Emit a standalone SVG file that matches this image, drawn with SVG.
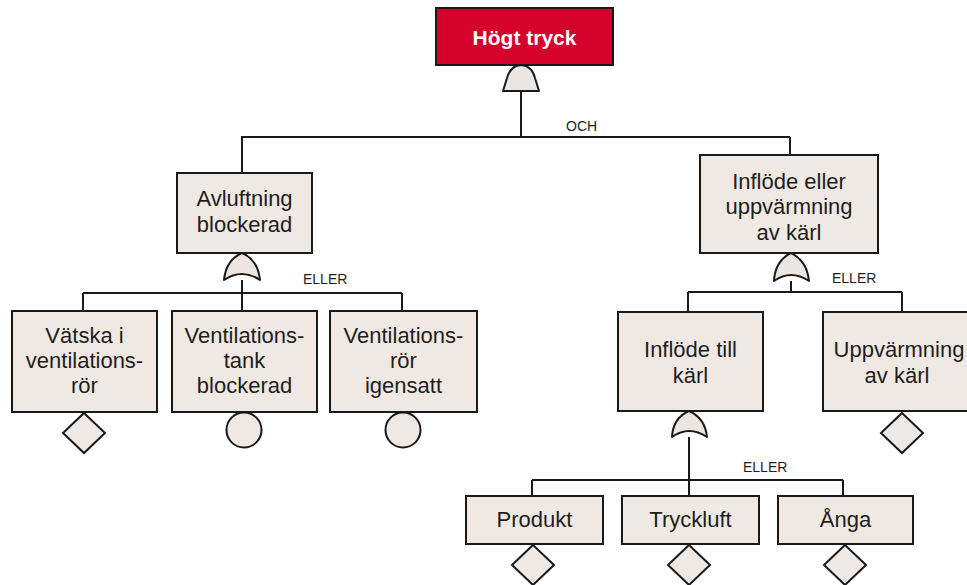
<svg xmlns="http://www.w3.org/2000/svg" width="967" height="585" viewBox="0 0 967 585">
<style>
.box{fill:#f0e8e2;stroke:#1a1a1a;stroke-width:2}
.gate{fill:#ede6e0;stroke:#1a1a1a;stroke-width:2;stroke-linejoin:round}
.ev{fill:#f0e8e2;stroke:#1a1a1a;stroke-width:2}
.t{font-family:"Liberation Sans",Arial,sans-serif;font-size:22px;fill:#1e1e1e;text-anchor:middle}
.lbl{font-family:"Liberation Sans",Arial,sans-serif;font-size:14px;fill:#1e1e1e}
.c{fill:none;stroke:#1a1a1a;stroke-width:2}
</style>
<rect width="967" height="585" fill="#ffffff"/>
<g id="connectors">
<path class="c" d="M521,91 V137 M241,137 H790 M242,137 V173 M790,137 V155"/>
<path class="c" d="M242,280 V311 M83,293 H402 M83,293 V311 M402,293 V311"/>
<path class="c" d="M791,281 V292 M688,292 H902 M688,292 V312 M902,292 V312"/>
<path class="c" d="M689,437 V496 M532,480 H843 M532,480 V496 M843,480 V496"/>
</g>
<g id="gates">
<path id="gate-och" class="gate" d="M503,91 L507,78 Q510,66 521,65 Q532,66 535,78 L539,91 Z"/>
<path id="gate-eller1" class="gate" d="M224,280 Q242,268 260,280 Q258,260 242,253 Q226,260 224,280 Z"/>
<path id="gate-eller2" class="gate" d="M774,281 Q791,269 809,281 Q807,261 791,253 Q775,261 774,281 Z"/>
<path id="gate-eller3" class="gate" d="M672,437 Q689,425 707,437 Q705,418 689,411 Q673,418 672,437 Z"/>
</g>
<g id="n-top">
<rect x="436" y="8" width="177" height="57" fill="#d5002b" stroke="#1a1a1a" stroke-width="2"/>
<text class="t" x="524.5" y="45" style="fill:#ffffff;font-weight:bold;font-size:21px">Högt tryck</text>
</g>
<text class="lbl" x="566" y="131">OCH</text>
<g id="n-avluftning">
<rect class="box" x="177" y="173" width="135" height="80"/>
<text class="t" x="244.5" y="206">Avluftning</text>
<text class="t" x="244.5" y="232">blockerad</text>
</g>
<text class="lbl" x="303" y="284">ELLER</text>
<g id="n-vatska">
<rect class="box" x="12" y="311" width="145" height="101"/>
<text class="t" x="84.5" y="343">Vätska i</text>
<text class="t" x="84.5" y="368">ventilations-</text>
<text class="t" x="84.5" y="393">rör</text>
<path class="ev" d="M84,413 L105,433 L84,453 L63,433 Z"/>
</g>
<g id="n-tank">
<rect class="box" x="172" y="311" width="145" height="101"/>
<text class="t" x="244.5" y="343">Ventilations-</text>
<text class="t" x="244.5" y="368">tank</text>
<text class="t" x="244.5" y="393">blockerad</text>
<circle class="ev" cx="244" cy="430" r="17.5"/>
</g>
<g id="n-ror">
<rect class="box" x="330" y="311" width="147" height="101"/>
<text class="t" x="403.5" y="343">Ventilations-</text>
<text class="t" x="403.5" y="368">rör</text>
<text class="t" x="403.5" y="393">igensatt</text>
<circle class="ev" cx="403" cy="430" r="17.5"/>
</g>
<g id="n-inflode-eller">
<rect class="box" x="700" y="155" width="178" height="98"/>
<text class="t" x="789" y="189">Inflöde eller</text>
<text class="t" x="789" y="214">uppvärmning</text>
<text class="t" x="789" y="240">av kärl</text>
</g>
<text class="lbl" x="832" y="283">ELLER</text>
<g id="n-inflode-till">
<rect class="box" x="618" y="312" width="145" height="99"/>
<text class="t" x="690.5" y="357">Inflöde till</text>
<text class="t" x="690.5" y="383">kärl</text>
</g>
<g id="n-uppvarmning">
<rect class="box" x="823" y="312" width="148" height="99"/>
<text class="t" x="899" y="357">Uppvärmning</text>
<text class="t" x="897" y="383">av kärl</text>
<path class="ev" d="M902,413 L923,433 L902,453 L881,433 Z"/>
</g>
<text class="lbl" x="743" y="472">ELLER</text>
<g id="n-produkt">
<rect class="box" x="466" y="496" width="137" height="48"/>
<text class="t" x="534.5" y="527">Produkt</text>
<path class="ev" d="M533,545 L554,565 L533,585 L512,565 Z"/>
</g>
<g id="n-tryckluft">
<rect class="box" x="622" y="496" width="137" height="48"/>
<text class="t" x="690.5" y="527">Tryckluft</text>
<path class="ev" d="M689,545 L710,565 L689,585 L668,565 Z"/>
</g>
<g id="n-anga">
<rect class="box" x="778" y="496" width="135" height="48"/>
<text class="t" x="845.5" y="527">Ånga</text>
<path class="ev" d="M845,545 L866,565 L845,585 L824,565 Z"/>
</g>
</svg>
